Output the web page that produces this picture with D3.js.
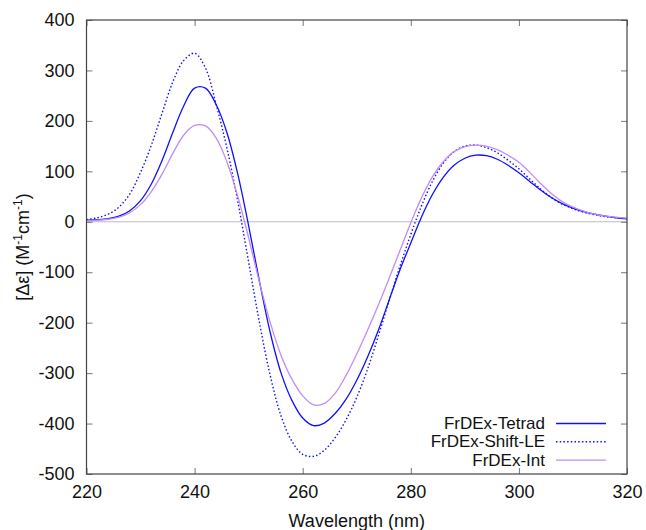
<!DOCTYPE html>
<html>
<head>
<meta charset="utf-8">
<script src="https://cdn.jsdelivr.net/npm/d3@7"></script>
<style>
  body { margin: 0; background: #fff; }
  text { font-family: "Liberation Sans", Arial, sans-serif; }
</style>
</head>
<body>
<script>
// wavelengths (nm), 2 nm step
var wavelength = [220,222,224,226,228,230,232,234,236,238,240,242,244,246,248,250,252,254,256,258,260,
                  262,264,266,268,270,272,274,276,278,280,282,284,286,288,290,292,294,296,298,300,
                  302,304,306,308,310,312,314,316,318,320];

var tetrad = [3,4,6,11,22,42,75,122,178,230,265,265,232,176,94,-8,-118,-220,-300,-354,-389,
              -404,-399,-380,-352,-314,-268,-215,-155,-95,-42,10,54,88,112,126,132,131,124,112,97,
              80,63,48,36,27,20,15,11,8,6];
var shiftLE = [4,8,15,29,55,98,152,216,278,320,334,305,232,145,40,-80,-200,-305,-385,-435,-461,
               -465,-453,-428,-393,-348,-292,-226,-156,-88,-25,32,80,116,139,150,152,147,137,122,105,
               85,65,48,35,26,19,14,10,8,6];
var intg = [2,3,5,9,18,34,60,95,136,172,191,190,166,118,50,-32,-120,-200,-265,-312,-345,
            -363,-360,-340,-305,-262,-215,-165,-112,-57,-2,48,89,119,139,149,152,150,143,132,118,
            98,76,56,40,29,21,15,11,9,7];

var seriesNames = ["FrDEx-Tetrad", "FrDEx-Shift-LE", "FrDEx-Int"];
var xTicks = [220,240,260,280,300,320];
var yTicks = [-500,-400,-300,-200,-100,0,100,200,300,400];

var width = 646, height = 530;
var margin = {left: 86.5, right: 19, top: 20, bottom: 56};
var pw = width - margin.left - margin.right,
    ph = height - margin.top - margin.bottom;
var fontSize = "18px";

var svg = d3.select("body").append("svg")
    .attr("width", width)
    .attr("height", height);

var x = d3.scaleLinear().domain([220, 320]).range([margin.left, margin.left + pw]);
var y = d3.scaleLinear().domain([-500, 400]).range([margin.top + ph, margin.top]);

// zero line
svg.append("line")
    .attr("x1", x(220)).attr("x2", x(320))
    .attr("y1", y(0)).attr("y2", y(0))
    .attr("stroke", "#bdbdbd").attr("stroke-width", 1);

// curves
var series = [
    {name: seriesNames[0], values: tetrad, color: "#1010ff", dash: null, w: 1.3},
    {name: seriesNames[1], values: shiftLE, color: "#1010ff", dash: "1.5,2.2", w: 1.4},
    {name: seriesNames[2], values: intg, color: "#c08cf6", dash: null, w: 1.3}
];

var line = d3.line()
    .x(function (d) { return x(d[0]); })
    .y(function (d) { return y(d[1]); })
    .curve(d3.curveCatmullRom);

series.forEach(function (s) {
    var pts = wavelength.map(function (w, i) { return [w, s.values[i]]; });
    svg.append("path")
        .attr("d", line(pts))
        .attr("fill", "none")
        .attr("stroke", s.color)
        .attr("stroke-width", s.w)
        .attr("stroke-dasharray", s.dash);
});

// plain hyphen for negatives, like the original
var plain = function (d) { return String(d); };

// axes: ticks pointing inward on all four sides
var axisColor = "#444";
svg.append("g")
    .attr("transform", "translate(0," + (margin.top + ph) + ")")
    .call(d3.axisBottom(x).tickValues(xTicks).tickSize(-6).tickPadding(11).tickFormat(plain))
    .call(styleAxis);
svg.append("g")
    .attr("transform", "translate(0," + margin.top + ")")
    .call(d3.axisTop(x).tickValues(xTicks).tickSize(-6).tickFormat(""))
    .call(styleAxis);
svg.append("g")
    .attr("transform", "translate(" + margin.left + ",0)")
    .call(d3.axisLeft(y).tickValues(yTicks).tickSize(-6).tickPadding(12).tickFormat(plain))
    .call(styleAxis);
svg.append("g")
    .attr("transform", "translate(" + (margin.left + pw) + ",0)")
    .call(d3.axisRight(y).tickValues(yTicks).tickSize(-6).tickFormat(""))
    .call(styleAxis);

function styleAxis(g) {
    g.select(".domain").remove();
    g.selectAll(".tick line").attr("stroke", "#777");
    g.selectAll(".tick text")
        .attr("fill", "#111")
        .style("font-size", fontSize)
        .style("font-family", "'Liberation Sans', Arial, sans-serif");
}

// frame
svg.append("rect")
    .attr("x", margin.left).attr("y", margin.top)
    .attr("width", pw).attr("height", ph)
    .attr("fill", "none")
    .attr("stroke", axisColor).attr("stroke-width", 1.2);

// axis labels
svg.append("text")
    .attr("x", margin.left + pw / 2)
    .attr("y", 527)
    .attr("text-anchor", "middle")
    .style("font-size", fontSize)
    .attr("fill", "#111")
    .text("Wavelength (nm)");

var yl = svg.append("text")
    .attr("transform", "translate(29," + (margin.top + ph / 2) + ") rotate(-90)")
    .attr("text-anchor", "middle")
    .style("font-size", fontSize)
    .attr("fill", "#111");
yl.append("tspan").text("[Δε] (M");
yl.append("tspan").attr("dy", -7).style("font-size", "12px").text("-1");
yl.append("tspan").attr("dy", 7).text("cm");
yl.append("tspan").attr("dy", -7).style("font-size", "12px").text("-1");
yl.append("tspan").attr("dy", 7).text(")");

// legend
var legend = svg.append("g");
series.forEach(function (s, i) {
    var ly = 423.5 + i * 18.3;
    legend.append("text")
        .attr("x", 545).attr("y", ly + 5.5)
        .attr("text-anchor", "end")
        .style("font-size", "17px")
        .attr("fill", "#111")
        .text(s.name);
    legend.append("line")
        .attr("x1", 556).attr("x2", 606)
        .attr("y1", ly).attr("y2", ly)
        .attr("stroke", s.color)
        .attr("stroke-width", s.w)
        .attr("stroke-dasharray", s.dash);
});
</script>
</body>
</html>
